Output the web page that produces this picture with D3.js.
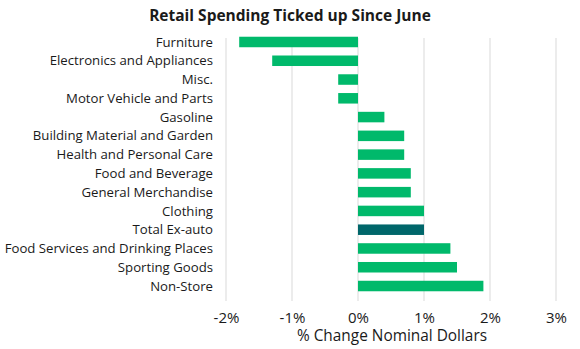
<!DOCTYPE html>
<html><head><meta charset="utf-8">
<script src="https://cdn.jsdelivr.net/npm/d3@7"></script>
<style>body{margin:0;background:#fff}svg{display:block}text{font-family:"Open Sans",sans-serif;fill:#1a1a1a}</style>
</head><body>
<svg id="c" width="580" height="349"></svg>
<script>
const categories = ["Furniture","Electronics and Appliances","Misc.","Motor Vehicle and Parts","Gasoline","Building Material and Garden","Health and Personal Care","Food and Beverage","General Merchandise","Clothing","Total Ex-auto","Food Services and Drinking Places","Sporting Goods","Non-Store"];
const values = [-1.8,-1.3,-0.3,-0.3,0.4,0.7,0.7,0.8,0.8,1.0,1.0,1.4,1.5,1.9];
const highlight = ["Total Ex-auto"];
const tickValues = [-2,-1,0,1,2,3];
const title = "Retail Spending Ticked up Since June";
const xTitle = "% Change Nominal Dollars";

const svg = d3.select("#c");
const x = d3.scaleLinear().domain([-2,3]).range([226,556]);
const y = d3.scaleBand().domain(categories).range([32.6,295.4]).paddingInner(0.44).paddingOuter(0.22);

svg.append("text").attr("x",290).attr("y",21).attr("text-anchor","middle")
  .attr("font-size",15.5).attr("font-weight",700).text(title);

svg.append("g").selectAll("line").data(tickValues).join("line")
  .attr("x1",d=>x(d)).attr("x2",d=>x(d)).attr("y1",38).attr("y2",301)
  .attr("stroke","#d9d9d9").attr("stroke-width",1);

svg.append("g").selectAll("rect").data(categories).join("rect")
  .attr("x",(d,i)=>x(Math.min(0,values[i])))
  .attr("width",(d,i)=>Math.abs(x(values[i])-x(0)))
  .attr("y",d=>y(d)).attr("height",y.bandwidth())
  .attr("fill",d=>highlight.includes(d)?"#00666a":"#00b96b");

svg.append("g").selectAll("text").data(categories).join("text")
  .attr("x",213).attr("y",d=>y(d)+y.bandwidth()/2).attr("dy","0.35em")
  .attr("text-anchor","end").attr("font-size",13.2).text(d=>d);

const ax = svg.append("g").attr("transform","translate(0,301)")
  .call(d3.axisBottom(x).tickValues(tickValues).tickSize(0).tickPadding(11).tickFormat(d=>d+"%"));
ax.select(".domain").remove();
ax.selectAll("text").attr("font-size",15).attr("font-family","'Open Sans',sans-serif").attr("fill","#1a1a1a");

svg.append("text").attr("x",392).attr("y",341).attr("text-anchor","middle")
  .attr("font-size",15.4).text(xTitle);
</script>
</body></html>
